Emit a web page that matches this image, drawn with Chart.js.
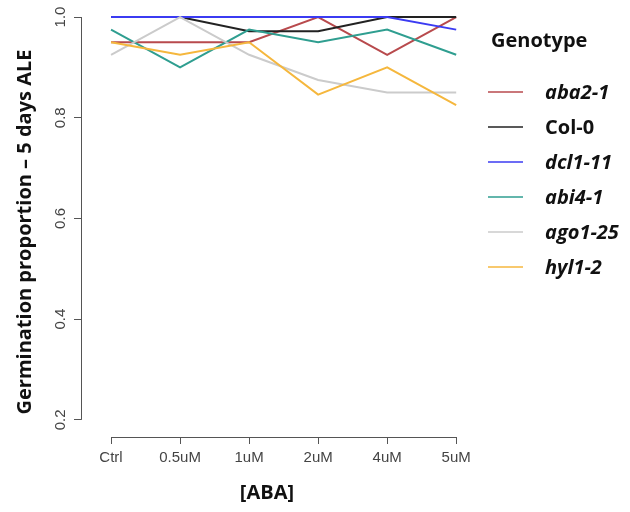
<!DOCTYPE html>
<html>
<head>
<meta charset="utf-8">
<script src="https://cdn.jsdelivr.net/npm/chart.js@4/dist/chart.umd.min.js"></script>
<style>
  html, body { margin: 0; padding: 0; background: #ffffff; }
  #wrap { width: 630px; height: 512px; }
</style>
</head>
<body>
<div id="wrap"><canvas id="c" width="630" height="512"></canvas></div>
<script>
// ---------------- data ----------------
const categories = ['Ctrl', '0.5uM', '1uM', '2uM', '4uM', '5uM'];
const genotypes = ['aba2-1', 'Col-0', 'dcl1-11', 'abi4-1', 'ago1-25', 'hyl1-2'];
const aba2_1  = [0.95, 0.95, 0.95, 1.00, 0.925, 1.00];
const col_0   = [1.00, 1.00, 0.972, 0.972, 1.00, 1.00];
const dcl1_11 = [1.00, 1.00, 1.00, 1.00, 1.00, 0.975];
const abi4_1  = [0.975, 0.90, 0.975, 0.95, 0.975, 0.925];
const ago1_25 = [0.925, 1.00, 0.925, 0.875, 0.85, 0.85];
const hyl1_2  = [0.95, 0.925, 0.95, 0.846, 0.90, 0.825];
const yTicks = [0.2, 0.4, 0.6, 0.8, 1.0];
const yTitle = 'Germination proportion \u2013 5 days ALE';
const xTitle = '[ABA]';
const legendTitle = 'Genotype';

// ---------------- styles ----------------
const seriesValues = [aba2_1, col_0, dcl1_11, abi4_1, ago1_25, hyl1_2];
const colors = ['#b84a4d', '#222222', '#3b3bf2', '#2f9e90', '#cbcbcb', '#f5b73d'];
const xIdx = categories.map((c, i) => i);

const datasets = genotypes.map((g, i) => ({
  label: g,
  data: seriesValues[i].map((v, j) => ({ x: xIdx[j], y: v })),
  borderColor: colors[i],
  backgroundColor: colors[i],
  borderWidth: 2,
  pointRadius: 0,
  pointHoverRadius: 0,
  tension: 0,
  fill: false,
  clip: false,
  order: genotypes.length - i
}));

function alignPx(p) { return Math.round(p - 0.5) + 0.5; }

const rDecor = {
  id: 'rDecor',
  afterDraw(chart) {
    const { ctx, chartArea, scales: { x, y } } = chart;
    ctx.save();
    // axis lines (R style, spanning first..last tick)
    ctx.strokeStyle = '#555';
    ctx.lineWidth = 1;
    const yl = alignPx(chartArea.left);
    ctx.beginPath();
    ctx.moveTo(yl, y.getPixelForValue(yTicks[0]));
    ctx.lineTo(yl, y.getPixelForValue(yTicks[yTicks.length - 1]));
    ctx.stroke();
    const xb = alignPx(chartArea.bottom);
    ctx.beginPath();
    ctx.moveTo(x.getPixelForValue(xIdx[0]), xb);
    ctx.lineTo(x.getPixelForValue(xIdx[xIdx.length - 1]), xb);
    ctx.stroke();

    // axis titles
    ctx.fillStyle = '#111';
    ctx.textAlign = 'center';
    ctx.textBaseline = 'middle';
    ctx.font = 'bold 20px "Open Sans"';
    ctx.save();
    ctx.translate(25, 232);
    ctx.rotate(-Math.PI / 2);
    ctx.fillText(yTitle, 0, 0);
    ctx.restore();
    ctx.font = 'bold 20px "Open Sans"';
    ctx.fillText(xTitle, 267, 493);

    // legend
    ctx.textAlign = 'left';
    ctx.textBaseline = 'alphabetic';
    ctx.font = 'bold 20px "Open Sans"';
    ctx.fillText(legendTitle, 491, 47);
    chart.data.datasets.forEach((ds, i) => {
      const ly = 92 + i * 35;
      ctx.strokeStyle = ds.borderColor;
      ctx.lineWidth = 2;
      ctx.globalAlpha = 0.75;
      ctx.beginPath();
      ctx.moveTo(488, ly);
      ctx.lineTo(523, ly);
      ctx.stroke();
      ctx.globalAlpha = 1;
      const italic = ds.label !== 'Col-0';
      ctx.font = (italic ? 'italic ' : '') + 'bold 20px "Open Sans"';
      ctx.fillStyle = '#111';
      ctx.fillText(ds.label, 545, ly + 7);
    });
    ctx.restore();
  }
};

new Chart(document.getElementById('c'), {
  type: 'line',
  data: { datasets },
  options: {
    responsive: false,
    devicePixelRatio: 1,
    animation: false,
    events: [],
    layout: { padding: { left: 0, top: 10, right: 160, bottom: 0 } },
    plugins: {
      legend: { display: false },
      tooltip: { enabled: false },
      title: { display: false }
    },
    scales: {
      x: {
        type: 'linear',
        min: -0.435,
        max: 5.2,
        afterBuildTicks: (s) => { s.ticks = xIdx.map(v => ({ value: v })); },
        afterFit: (s) => { s.height = 75; },
        border: { display: false },
        grid: { display: true, drawOnChartArea: false, drawTicks: true, tickLength: 7, color: '#555', lineWidth: 1 },
        ticks: {
          autoSkip: false,
          maxRotation: 0,
          minRotation: 0,
          padding: 5,
          color: '#444',
          font: { family: '"Liberation Sans", Arial, sans-serif', size: 15 },
          callback: (v) => categories[Math.round(v)]
        }
      },
      y: {
        type: 'linear',
        min: 0.166,
        max: 1.01,
        afterBuildTicks: (s) => { s.ticks = yTicks.map(v => ({ value: v })); },
        afterFit: (s) => { s.width = 81; },
        border: { display: false },
        grid: { display: true, drawOnChartArea: false, drawTicks: true, tickLength: 7, color: '#555', lineWidth: 1 },
        ticks: {
          minRotation: 90,
          maxRotation: 90,
          crossAlign: 'center',
          padding: 3,
          color: '#444',
          font: { family: '"Liberation Sans", Arial, sans-serif', size: 15 },
          callback: (v) => v.toFixed(1)
        }
      }
    }
  },
  plugins: [rDecor]
});
</script>
</body>
</html>
